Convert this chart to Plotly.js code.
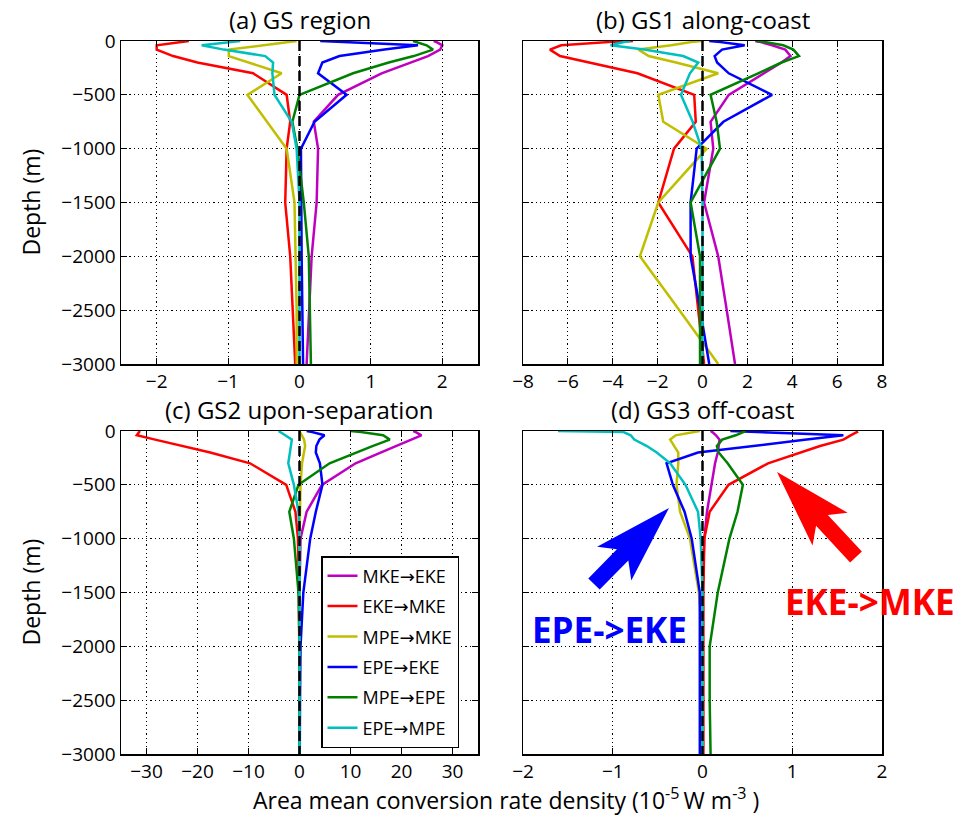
<!DOCTYPE html>
<html><head><meta charset="utf-8">
<script src="https://cdn.plot.ly/plotly-3.0.1.min.js"></script>
<style>html,body{margin:0;padding:0;background:#fff}</style>
</head><body><div id="chart" style="width:965px;height:816px"></div>
<script>
// depth levels (m)
const depth = [0,-10,-40,-80,-140,-200,-300,-500,-750,-1000,-1500,-2000,-2500,-3000];
const zeroX = [0,0];
const zeroY = [0,-3000];
const seriesNames = ['MKE→EKE','EKE→MKE','MPE→MKE','EPE→EKE','MPE→EPE','EPE→MPE'];
const seriesColors = ['#bf00bf','#ff0000','#bfbf00','#0000ff','#008000','#00bfbf'];
const panelTitles = ['(a) GS region','(b) GS1 along-coast','(c) GS2 upon-separation','(d) GS3 off-coast'];
const xRanges = [[-2.5,2.5],[-8,8],[-35,35],[-2,2]];
const xTicks = [1,2,10,1];

// (a) GS region
const a_mke_eke = [1.88,1.92,2.0,1.97,1.8,1.55,1.15,0.54,0.2,0.26,0.24,0.17,0.13,0.1];
const a_eke_mke = [-1.55,-1.67,-2.0,-2.0,-1.77,-1.43,-0.65,-0.18,-0.13,-0.18,-0.2,-0.13,-0.1,-0.06];
const a_mpe_mke = [-0.04,-0.17,-0.55,-0.99,-0.99,-0.7,-0.25,-0.73,-0.45,-0.18,-0.07,-0.05,-0.04,-0.04];
const a_epe_eke = [0.29,0.63,1.66,1.19,0.56,0.32,0.26,0.66,0.21,0.02,0.02,0.03,0.04,0.05];
const a_mpe_epe = [1.59,1.64,1.78,1.87,1.6,1.25,0.75,0.0,-0.1,-0.03,0.06,0.13,0.15,0.16];
const a_epe_mpe = [-0.83,-0.97,-1.37,-1.06,-0.48,-0.37,-0.38,-0.35,-0.11,-0.04,0,0,0,0];
// (b) GS1 along-coast
const b_mke_eke = [2.35,2.6,3.1,3.69,3.92,3.52,2.74,1.17,0.36,0.48,0.07,0.7,1.08,1.45];
const b_eke_mke = [-3.1,-4.2,-6.3,-6.8,-6.35,-5.1,-2.9,-0.37,-0.3,-1.27,-1.97,-0.45,-0.2,0.07];
const b_mpe_mke = [-0.05,-0.5,-1.4,-2.85,-2.4,-1.18,0.7,-1.97,-1.75,0.18,-1.97,-2.79,-1.03,0.7];
const b_epe_eke = [0.3,0.8,1.88,0.87,0.54,0.65,1.17,3.1,0.93,-0.26,-0.53,-0.53,-0.1,0.3];
const b_mpe_epe = [2.4,2.8,3.6,4.05,4.3,3.52,2.48,0.36,0.63,0.78,-0.53,-0.11,-0.11,-0.11];
const b_epe_mpe = [-3.2,-3.5,-4.1,-2.6,-0.86,-0.19,-0.56,-0.96,-0.44,-0.04,0,0,0,0];
// (c) GS2 upon-separation
const c_mke_eke = [22.3,22.8,23.9,22.0,18.9,15.9,11.0,4.4,1.4,0.2,0,0,0,0];
const c_eke_mke = [-31.3,-31.5,-31.9,-28.3,-22.6,-17.5,-9.7,-2.6,-0.8,-0.3,-0.1,0,0,0];
const c_mpe_mke = [0,0.1,0.4,0.9,1.1,0.9,0.5,0.2,0.1,0,0,0,0,0];
const c_epe_eke = [1.4,2.5,4.9,3.9,3.3,3.2,4.0,4.5,3.2,2.1,0.75,0.2,0.1,0.05];
const c_mpe_epe = [10.0,12.1,16.4,17.7,14.3,11.0,5.9,-0.2,-2.0,-1.1,-0.2,0,0,0];
const c_epe_mpe = [-4.1,-3.7,-2.8,-1.5,-1.7,-2.0,-2.2,-1.1,-0.2,0,0,0,0,0];
// (d) GS3 off-coast
const d_mke_eke = [0.09,0.11,0.15,0.19,0.18,0.17,0.14,0.1,0.05,0.02,0,0,0,0];
const d_eke_mke = [1.71,1.72,1.65,1.57,1.31,1.09,0.73,0.29,0.08,0.02,0.01,0.01,0.01,0.01];
const d_mpe_mke = [-0.03,-0.1,-0.3,-0.36,-0.31,-0.27,-0.27,-0.29,-0.25,-0.14,-0.04,0,0,0];
const d_epe_eke = [0.31,0.62,1.57,1.16,0.53,-0.05,-0.4,-0.33,-0.2,-0.12,-0.03,-0.03,-0.03,-0.03];
const d_mpe_epe = [0.48,0.45,0.37,0.22,0.16,0.18,0.28,0.45,0.39,0.3,0.17,0.08,0.08,0.09];
const d_epe_mpe = [-1.61,-0.88,-0.8,-0.76,-0.62,-0.51,-0.36,-0.19,-0.05,-0.02,0,0,0,0];

const panels = [
  [a_mke_eke,a_eke_mke,a_mpe_mke,a_epe_eke,a_mpe_epe,a_epe_mpe],
  [b_mke_eke,b_eke_mke,b_mpe_mke,b_epe_eke,b_mpe_epe,b_epe_mpe],
  [c_mke_eke,c_eke_mke,c_mpe_mke,c_epe_eke,c_mpe_epe,c_epe_mpe],
  [d_mke_eke,d_eke_mke,d_mpe_mke,d_epe_eke,d_mpe_epe,d_epe_mpe]
];

const W = 965, H = 816;
const px = (x) => x / W;
const py = (y) => 1 - y / H;
// panel boxes in pixels [left, right, top, bottom]
const boxes = [[121,478,41,364],[523,882,41,364],[121,478,431,754],[523,882,431,754]];

// legend label: arrow drawn with a font that has a full-size arrow glyph
const legendLabel = (name) => name.replace('→', '<span style="font-family:DejaVu Sans">→</span>');

const traces = [];
panels.forEach((series, p) => {
  const s = p === 0 ? '' : String(p + 1);
  series.forEach((vals, i) => {
    traces.push({
      x: vals, y: depth, type: 'scatter', mode: 'lines',
      name: legendLabel(seriesNames[i]), legendgroup: seriesNames[i], showlegend: p === 0,
      line: {color: seriesColors[i], width: 2.5},
      xaxis: 'x' + s, yaxis: 'y' + s, hoverinfo: 'skip'
    });
  });
  traces.push({
    x: zeroX, y: zeroY, type: 'scatter', mode: 'lines', showlegend: false,
    line: {color: 'black', width: 2.5, dash: '10px,5px'},
    xaxis: 'x' + s, yaxis: 'y' + s, hoverinfo: 'skip'
  });
});

const tickFont = {family: 'Open Sans', size: 19, color: 'black'};
function xax(p) {
  const b = boxes[p];
  return {
    domain: [px(b[0]), px(b[1])], range: xRanges[p], dtick: xTicks[p], tick0: 0,
    anchor: 'y' + (p === 0 ? '' : p + 1),
    showline: true, linecolor: 'black', linewidth: 1.5, mirror: 'ticks',
    ticks: 'inside', ticklen: 6, tickwidth: 1, tickcolor: 'black',
    showgrid: true, gridcolor: '#000', gridwidth: 1, griddash: '1.2px,3px',
    zeroline: false, tickfont: tickFont, fixedrange: true
  };
}
function yax(p) {
  const b = boxes[p];
  return {
    domain: [py(b[3]), py(b[2])], range: [-3000, 0], dtick: 500, tick0: 0,
    anchor: 'x' + (p === 0 ? '' : p + 1),
    showline: true, linecolor: 'black', linewidth: 1.5, mirror: 'ticks',
    ticks: 'inside', ticklen: 6, tickwidth: 1, tickcolor: 'black',
    showgrid: true, gridcolor: '#000', gridwidth: 1, griddash: '1.2px,3px',
    zeroline: false, tickfont: tickFont, showticklabels: (p % 2 === 0), fixedrange: true
  };
}

const annotations = [];
const titleFont = {family: 'Open Sans', size: 24, color: 'black'};
boxes.forEach((b, p) => {
  annotations.push({
    text: panelTitles[p], xref: 'paper', yref: 'paper',
    x: px((b[0] + b[1]) / 2), y: py(b[2] - 3), xanchor: 'center', yanchor: 'bottom',
    showarrow: false, font: titleFont
  });
});
[boxes[0], boxes[2]].forEach((b) => {
  annotations.push({
    text: 'Depth (m)', xref: 'paper', yref: 'paper', x: px(30), y: py((b[2] + b[3]) / 2),
    xanchor: 'center', yanchor: 'middle', textangle: -90, showarrow: false,
    font: {family: 'Open Sans', size: 23, color: 'black'}
  });
});
annotations.push({
  text: 'Area mean conversion rate density (10<sup>-5 </sup>W m<sup>-3</sup> )',
  xref: 'paper', yref: 'paper', x: px(506), y: py(799), xanchor: 'center', yanchor: 'middle',
  showarrow: false, font: {family: 'Open Sans', size: 23, color: 'black'}
});
annotations.push({
  text: '<b>EPE-&gt;EKE</b>', xref: 'paper', yref: 'paper', x: px(609), y: py(629),
  xanchor: 'center', yanchor: 'middle', showarrow: false,
  font: {family: 'Open Sans', size: 35, color: '#0000ff'}
});
annotations.push({
  text: '<b>EKE-&gt;MKE</b>', xref: 'paper', yref: 'paper', x: px(870), y: py(601),
  xanchor: 'center', yanchor: 'middle', showarrow: false,
  font: {family: 'Open Sans', size: 35, color: '#ff0000'}
});

// block arrows (pixel geometry -> paper path)
function blockArrow(tail, tip, w, hw, headLen, over) {
  const dx = tip[0] - tail[0], dy = tip[1] - tail[1];
  const L = Math.hypot(dx, dy);
  const u = [dx / L, dy / L], n = [-u[1], u[0]];
  const sw = L - headLen, sj = sw + over;
  const loc = [[0,-w],[sj,-w],[sw,-hw],[L,0],[sw,hw],[sj,w],[0,w]];
  const pts = loc.map(([s, t]) => [tail[0] + u[0]*s + n[0]*t, tail[1] + u[1]*s + n[1]*t]);
  return 'M ' + pts.map(q => px(q[0]).toFixed(5) + ',' + py(q[1]).toFixed(5)).join(' L ') + ' Z';
}
const shapes = [
  {type: 'path', xref: 'paper', yref: 'paper', path: blockArrow([594,584],[669,508],8,24,78,12),
   fillcolor: '#0000ff', line: {width: 0}},
  {type: 'path', xref: 'paper', yref: 'paper', path: blockArrow([856,557],[777,472],8,24,78,12),
   fillcolor: '#ff0000', line: {width: 0}}
];

const layout = {
  width: W, height: H, margin: {l: 0, r: 0, t: 0, b: 0},
  paper_bgcolor: 'white', plot_bgcolor: 'white',
  showlegend: true,
  legend: {x: px(321), y: py(556), xanchor: 'left', yanchor: 'top',
    bordercolor: 'black', borderwidth: 1.5, bgcolor: 'white', tracegroupgap: 4,
    font: {family: 'Open Sans', size: 18, color: 'black'}},
  xaxis: xax(0), yaxis: yax(0), xaxis2: xax(1), yaxis2: yax(1),
  xaxis3: xax(2), yaxis3: yax(2), xaxis4: xax(3), yaxis4: yax(3),
  annotations: annotations, shapes: shapes
};
Plotly.newPlot('chart', traces, layout, {displayModeBar: false, staticPlot: true});
</script></body></html>
